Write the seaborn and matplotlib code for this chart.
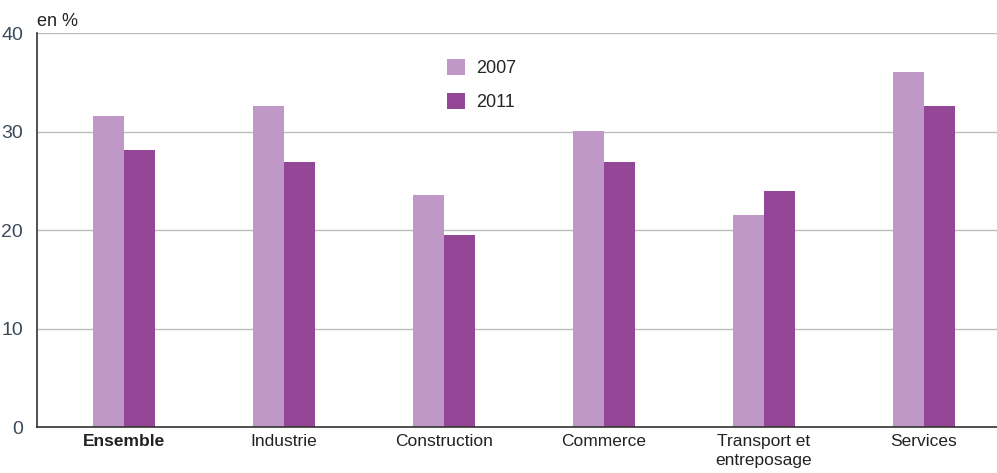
import matplotlib
matplotlib.use("Agg")
import matplotlib.pyplot as plt
import seaborn as sns
import pandas as pd

# données
secteurs = ["Ensemble", "Industrie", "Construction", "Commerce",
            "Transport et\nentreposage", "Services"]
val_2007 = [31.6, 32.6, 23.6, 30.1, 21.5, 36.1]
val_2011 = [28.1, 26.9, 19.5, 26.9, 24.0, 32.6]
annees = ["2007", "2011"]
couleurs = ["#bf98c8", "#944797"]

df = pd.DataFrame({
    "secteur": secteurs * 2,
    "annee": [annees[0]] * len(secteurs) + [annees[1]] * len(secteurs),
    "valeur": val_2007 + val_2011,
})

sns.set_style("white")
plt.rcParams["font.family"] = ["Liberation Sans", "DejaVu Sans"]

fig = plt.figure(figsize=(9.97, 4.73), dpi=100)
ax = fig.add_axes([0.037, 0.097, 0.963, 0.833])

sns.barplot(data=df, x="secteur", y="valeur", hue="annee", palette=couleurs,
            width=0.39, gap=0, saturation=1, ax=ax, edgecolor="none")

ax.set_ylim(0, 40)
ax.set_xlim(-0.544, 5.456)
ax.set_yticks([0, 10, 20, 30, 40])
ax.yaxis.grid(True, color="#bdbdbd", linewidth=1)
ax.set_axisbelow(True)
ax.set_xlabel("")
ax.set_ylabel("")

for s in ["top", "right"]:
    ax.spines[s].set_visible(False)
for s in ["left", "bottom"]:
    ax.spines[s].set_color("#333333")
    ax.spines[s].set_linewidth(1.2)

ax.tick_params(axis="y", length=4, color="#333333", labelsize=14,
               labelcolor="#3b4a5a", pad=6)
ax.tick_params(axis="x", length=0, labelsize=12.5, labelcolor="#222222", pad=5)
for lab in ax.get_xticklabels():
    lab.set_linespacing(1.35)
ax.get_xticklabels()[0].set_fontweight("bold")

ax.text(0.0, 1.008, "en %", transform=ax.transAxes, fontsize=13,
        color="#222222", ha="left", va="bottom")

leg = ax.legend(loc="upper left", bbox_to_anchor=(0.41, 0.975), frameon=False,
                fontsize=13, handlelength=1.0, handleheight=1.0,
                labelspacing=0.85, handletextpad=0.6)

fig.savefig("out.png", dpi=100)
